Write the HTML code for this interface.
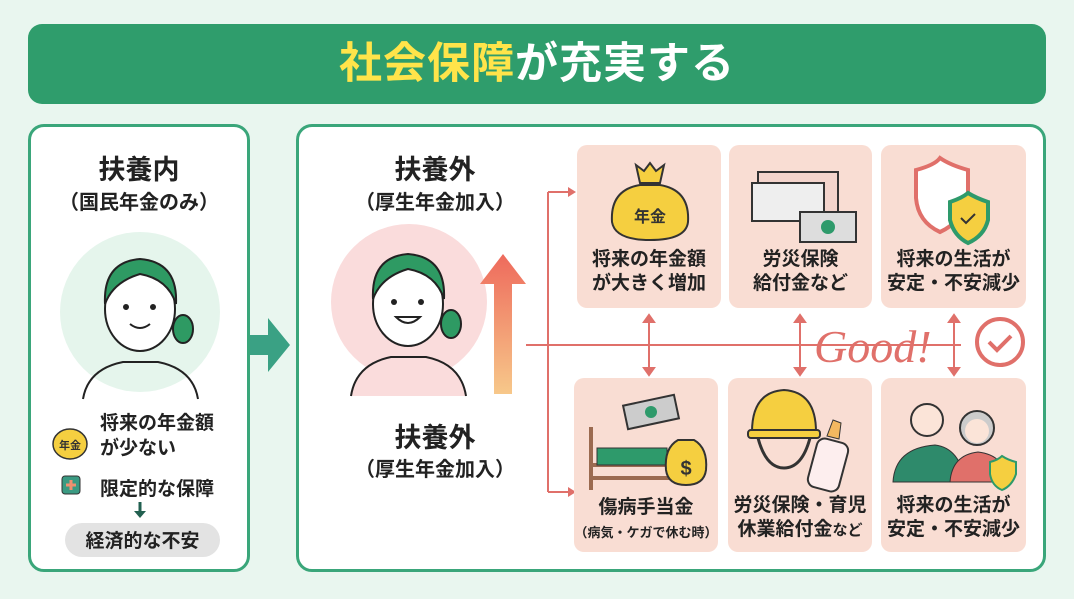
<!DOCTYPE html>
<html><head><meta charset="utf-8"><style>
*{margin:0;padding:0;box-sizing:border-box}
body{width:1074px;height:599px;background:#e9f6ef;position:relative;overflow:hidden;font-family:"Liberation Sans","Noto Sans CJK JP",sans-serif;color:#222}
.abs{position:absolute}
.title{left:28px;top:24px;width:1018px;height:80px;background:#2f9d6c;border-radius:14px;text-align:center;line-height:80px;font-size:43px;font-weight:bold;color:#fff;letter-spacing:1px}
.panel{background:#fff;border:3px solid #3aa67a;border-radius:16px}
.card{background:#f9ddd3;border-radius:10px;text-align:center;font-weight:bold;font-size:19px;line-height:24px}
.h{font-weight:bold;text-align:center}
</style></head><body>
<div class="abs title"><span style="color:#ffe44a">社会保障</span>が充実する</div>

<div class="abs panel" style="left:28px;top:124px;width:222px;height:448px"></div>
<div class="abs h" style="left:28px;top:148px;width:222px;font-size:27px">扶養内</div>
<div class="abs h" style="left:28px;top:186px;width:222px;font-size:20px">（国民年金のみ）</div>
<svg class="abs" style="left:28px;top:124px" width="222" height="448">
<circle cx="112" cy="188" r="80" fill="#e5f5ec"/>
<path d="M55 275 Q60 245 95 238 L130 238 Q165 245 170 275" fill="none" stroke="#222" stroke-width="2"/>
<ellipse cx="112" cy="185" rx="35" ry="42" fill="#fff" stroke="#222" stroke-width="2"/>
<path d="M77 180 Q75 138 112 135 Q150 138 148 180 Q140 155 112 150 Q85 158 77 180Z" fill="#2e9a63" stroke="#222" stroke-width="2"/>
<ellipse cx="155" cy="205" rx="10" ry="14" fill="#2e9a63" stroke="#222" stroke-width="2"/>
<circle cx="98" cy="183" r="3" fill="#222"/><circle cx="125" cy="183" r="3" fill="#222"/>
<path d="M102 200 Q112 208 122 200" fill="none" stroke="#222" stroke-width="2"/>
<ellipse cx="42" cy="320" rx="17" ry="15" fill="#f5cf40" stroke="#333" stroke-width="1.5"/>
<text x="42" y="325" font-size="11" font-weight="bold" text-anchor="middle" fill="#333">年金</text>
<rect x="34" y="352" width="18" height="18" rx="3" fill="#3a9a82" stroke="#333"/>
<path d="M43 356v10M38 361h10" stroke="#f09070" stroke-width="3"/>
<path d="M112 378v12" stroke="#226050" stroke-width="3"/><path d="M106 387l6 7 6-7z" fill="#226050"/>
<rect x="37" y="399" width="155" height="34" rx="17" fill="#e3e3e3"/>
</svg>
<div class="abs" style="left:100px;top:411px;font-size:19px;font-weight:bold;line-height:25px">将来の年金額<br>が少ない</div>
<div class="abs" style="left:100px;top:474px;font-size:19px;font-weight:bold">限定的な保障</div>
<div class="abs h" style="left:65px;top:526px;width:155px;font-size:19px">経済的な不安</div>

<svg class="abs" style="left:250px;top:318px" width="42" height="54"><path d="M0 17h18V0l22 27-22 27V37H0z" fill="#3aa184"/></svg>

<div class="abs panel" style="left:296px;top:124px;width:750px;height:448px"></div>
<div class="abs h" style="left:330px;top:148px;width:210px;font-size:27px">扶養外</div>
<div class="abs h" style="left:330px;top:186px;width:210px;font-size:20px">（厚生年金加入）</div>
<div class="abs h" style="left:330px;top:416px;width:210px;font-size:27px">扶養外</div>
<div class="abs h" style="left:330px;top:453px;width:210px;font-size:20px">（厚生年金加入）</div>
<svg class="abs" style="left:296px;top:124px" width="750" height="448">
<defs><linearGradient id="g" x1="0" y1="0" x2="0" y2="1"><stop offset="0" stop-color="#ee6a5c"/><stop offset="1" stop-color="#f7c88a"/></linearGradient></defs>
<circle cx="113" cy="178" r="78" fill="#fadcdc"/>
<path d="M55 272 Q60 240 95 233 L130 233 Q165 240 170 272" fill="#fadcdc" stroke="#222" stroke-width="2"/>
<ellipse cx="112" cy="180" rx="35" ry="42" fill="#fff" stroke="#222" stroke-width="2"/>
<path d="M77 175 Q75 133 112 130 Q150 133 148 175 Q140 150 112 145 Q85 153 77 175Z" fill="#2e9a63" stroke="#222" stroke-width="2"/>
<ellipse cx="155" cy="200" rx="10" ry="14" fill="#2e9a63" stroke="#222" stroke-width="2"/>
<circle cx="98" cy="178" r="3" fill="#222"/><circle cx="125" cy="178" r="3" fill="#222"/>
<path d="M100 193 Q112 205 124 193Z" fill="#fff" stroke="#222" stroke-width="2"/>
<path d="M198 270V160h-14l23-30 23 30h-14v110z" fill="url(#g)"/>
<path d="M230 221H665" stroke="#e0706a" stroke-width="2"/>
<path d="M252 68V368M252 68H272M252 368H272" stroke="#e0706a" stroke-width="2" fill="none"/>
<path d="M272 63l8 5-8 5z M272 363l8 5-8 5z" fill="#e0706a"/>
<g stroke="#e0706a" stroke-width="2" fill="#e0706a">
<path d="M353 192V250"/><path d="M348 198l5-7 5 7zM348 244l5 7 5-7z"/>
<path d="M504 192V250"/><path d="M499 198l5-7 5 7zM499 244l5 7 5-7z"/>
<path d="M658 192V250"/><path d="M653 198l5-7 5 7zM653 244l5 7 5-7z"/>
</g>
<rect x="515" y="196" width="135" height="50" fill="#fff" opacity="0"/>
<text x="518" y="238" font-family="Liberation Serif,serif" font-style="italic" font-size="46" fill="#e0706a">Good!</text>
<circle cx="704" cy="218" r="23" fill="#fff" stroke="#e0706a" stroke-width="4"/>
<path d="M693 218l8 8 14-14" stroke="#e0706a" stroke-width="4" fill="none"/>
</svg>

<div class="abs card" style="left:577px;top:145px;width:144px;height:163px;padding-top:103px">将来の年金額<br>が大きく増加</div>
<div class="abs card" style="left:729px;top:145px;width:143px;height:163px;padding-top:103px">労災保険<br>給付金など</div>
<div class="abs card" style="left:881px;top:145px;width:145px;height:163px;padding-top:103px">将来の生活が<br>安定・不安減少</div>
<div class="abs card" style="left:574px;top:378px;width:144px;height:174px;padding-top:118px">傷病手当金<br><span style="font-size:13px">（病気・ケガで休む時）</span></div>
<div class="abs card" style="left:728px;top:378px;width:144px;height:174px;padding-top:116px">労災保険・育児<br>休業給付金<span style="font-size:15px">など</span></div>
<div class="abs card" style="left:881px;top:378px;width:145px;height:174px;padding-top:116px">将来の生活が<br>安定・不安減少</div>

<svg class="abs" style="left:0;top:0" width="1074" height="599">
<path d="M640 185 Q610 190 612 222 Q615 240 650 240 Q686 240 688 222 Q690 190 660 185Z" fill="#f5cf40" stroke="#333" stroke-width="2"/>
<path d="M636 165l8 6 6-8 6 8 8-6-4 18h-20z" fill="#f5cf40" stroke="#333" stroke-width="2"/>
<text x="650" y="222" font-size="16" font-weight="bold" text-anchor="middle" fill="#333">年金</text>
<rect x="758" y="172" width="80" height="48" fill="#f3d4cc" stroke="#333" stroke-width="2"/>
<rect x="752" y="183" width="72" height="38" fill="#eee" stroke="#333" stroke-width="2"/>
<rect x="800" y="212" width="56" height="30" fill="#ddd" stroke="#333" stroke-width="2"/>
<circle cx="828" cy="227" r="7" fill="#2e9a6b"/>
<path d="M916 170 Q935 165 940 158 Q950 165 968 170 V198 Q962 222 940 232 Q918 222 916 198Z" fill="#fff" stroke="#e0706a" stroke-width="4"/>
<path d="M950 202 Q962 198 968 193 Q976 198 988 202V220 Q984 236 968 243 Q954 236 950 220Z" fill="#f5cf40" stroke="#2e9a6b" stroke-width="4"/>
<path d="M961 218l5 5 9-9" stroke="#333" stroke-width="2" fill="none"/>
<rect x="625" y="400" width="52" height="24" fill="#ccc" stroke="#333" stroke-width="2" transform="rotate(-12 651 412)"/>
<circle cx="651" cy="412" r="6" fill="#2e9a6b"/>
<path d="M591 427V490M591 465H670M591 478H670" stroke="#9b6a50" stroke-width="4" fill="none"/>
<rect x="597" y="448" width="70" height="17" fill="#2e9a6b" stroke="#333"/>
<path d="M678 440 Q664 448 666 470 Q668 485 686 485 Q704 485 706 470 Q708 448 694 440Z" fill="#f5cf40" stroke="#333" stroke-width="2"/>
<text x="686" y="475" font-size="20" font-weight="bold" text-anchor="middle" fill="#333">$</text>
<path d="M752 432 Q752 392 784 390 Q816 392 816 432Z" fill="#f5cf40" stroke="#333" stroke-width="2"/>
<rect x="748" y="430" width="72" height="8" rx="3" fill="#f5cf40" stroke="#333" stroke-width="2"/>
<path d="M758 438 Q766 468 784 468 Q802 468 810 438" fill="none" stroke="#333" stroke-width="3"/>
<rect x="812" y="440" width="32" height="50" rx="8" fill="#fdeeee" stroke="#333" stroke-width="2" transform="rotate(15 828 465)"/>
<path d="M833 420 l8 3 -2 16 -12 -3z" fill="#f3b860" stroke="#333"/>
<path d="M893 482 Q895 448 935 445 Q960 448 965 482Z" fill="#2e8a6b" stroke="#333"/>
<circle cx="927" cy="420" r="16" fill="#fbe4d8" stroke="#333" stroke-width="2"/>
<path d="M950 482 Q952 455 978 452 Q1005 455 1008 482Z" fill="#e0706a" stroke="#333"/>
<circle cx="977" cy="428" r="17" fill="#ccc" stroke="#333" stroke-width="2"/>
<circle cx="977" cy="431" r="12" fill="#fbe4d8"/>
<path d="M990 462 Q998 460 1002 456 Q1008 460 1016 462V474 Q1012 486 1002 490 Q992 486 990 474Z" fill="#f5cf40" stroke="#2e9a6b" stroke-width="2"/>
</svg>
</body></html>
